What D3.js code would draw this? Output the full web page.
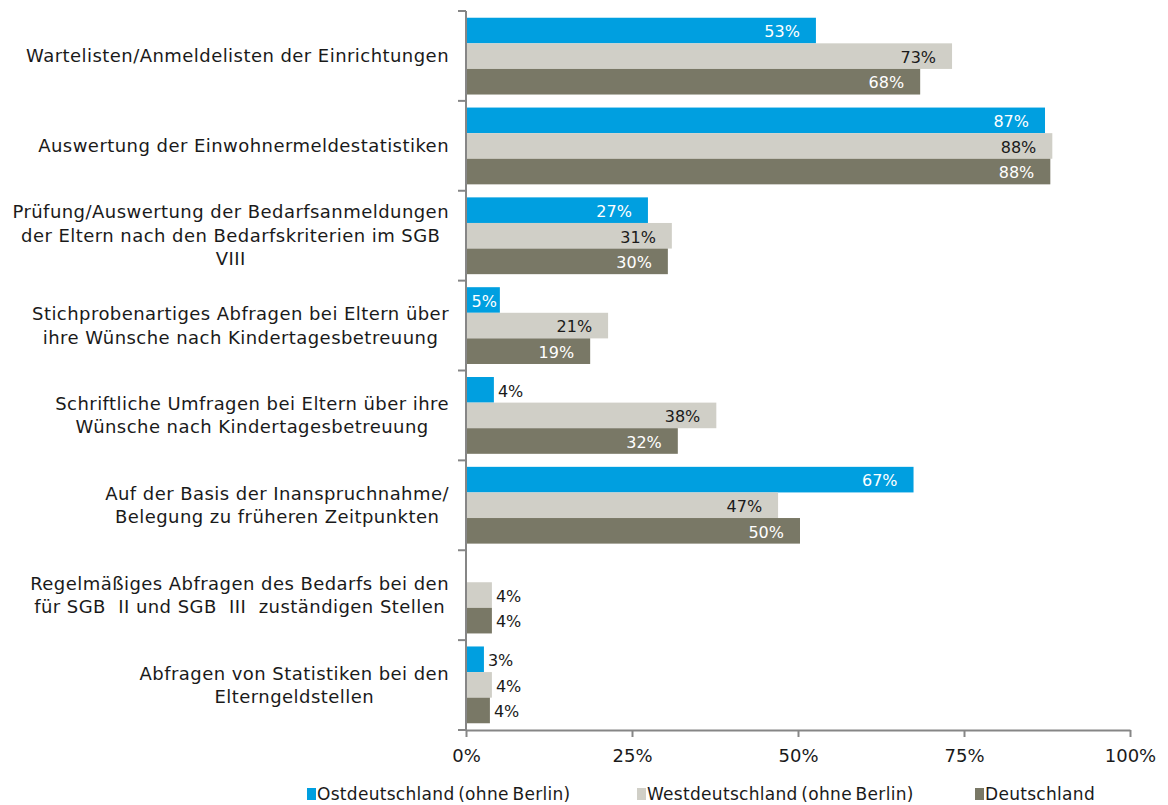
<!DOCTYPE html>
<html>
<head>
<meta charset="utf-8">
<script src="https://cdnjs.cloudflare.com/ajax/libs/d3/7.8.5/d3.min.js"></script>
<style>
    body { margin: 0; background: #fff; }
    svg { display: block; }
</style>
</head>
<body>
<div id="chart"></div>
<script>
/* Chart data. */
const categories = [
    ['Wartelisten/Anmeldelisten der Einrichtungen'],
    ['Auswertung der Einwohnermeldestatistiken'],
    ['Prüfung/Auswertung der Bedarfsanmeldungen', 'der Eltern nach den Bedarfskriterien im SGB', 'VIII'],
    ['Stichprobenartiges Abfragen bei Eltern über', 'ihre Wünsche nach Kindertagesbetreuung'],
    ['Schriftliche Umfragen bei Eltern über ihre', 'Wünsche nach Kindertagesbetreuung'],
    ['Auf der Basis der Inanspruchnahme/', 'Belegung zu früheren Zeitpunkten'],
    ['Regelmäßiges Abfragen des Bedarfs bei den', 'für SGB  II und SGB  III  zuständigen Stellen'],
    ['Abfragen von Statistiken bei den', 'Elterngeldstellen']
];
const seriesNames = ['Ostdeutschland (ohne Berlin)', 'Westdeutschland (ohne Berlin)', 'Deutschland'];
const ostValues = [52.7, 87.2, 27.4, 5.1, 4.2, 67.4, null, 2.7];
const westValues = [73.2, 88.3, 31.0, 21.4, 37.7, 47.0, 3.9, 3.9];
const deValues = [68.4, 88.0, 30.4, 18.7, 31.9, 50.3, 3.9, 3.6];
const xTicks = [0, 25, 50, 75, 100];

const colors = ['#009fe0', '#d0cfc7', '#797866'];
const labelColors = ['#ffffff', '#1a1a1a', '#ffffff'];

const W = 1168, H = 805;
const margin = {top: 11, left: 466, right: 38, bottom: 75};
const width = W - margin.left - margin.right;
const height = H - margin.top - margin.bottom;

const svg = d3.select('#chart').append('svg')
    .attr('width', W)
    .attr('height', H);

const g = svg.append('g')
    .attr('transform', 'translate(' + margin.left + ',' + margin.top + ')');

// Scales.
const x = d3.scaleLinear().domain([0, 100]).range([0, width]);
const y = d3.scaleBand().domain(d3.range(categories.length)).range([0, height])
    .paddingInner(0.145).paddingOuter(0.075);
const ySub = d3.scaleBand().domain([0, 1, 2]).range([0, y.bandwidth()]);
const yOuter = d3.scaleLinear().domain([0, categories.length]).range([0, height]);

// Build rows.
const allSeries = [ostValues, westValues, deValues];
const rows = [];
allSeries.forEach(function (vals, s) {
    vals.forEach(function (v, i) {
        if (v !== null) rows.push({cat: i, s: s, v: v});
    });
});

// Bars.
g.selectAll('rect.bar')
    .data(rows)
    .enter()
    .append('rect')
    .attr('class', 'bar')
    .attr('x', x(0) + 1)
    .attr('y', function (d) { return y(d.cat) + ySub(d.s); })
    .attr('width', function (d) { return x(d.v) - x(0) - 1; })
    .attr('height', ySub.bandwidth())
    .attr('fill', function (d) { return colors[d.s]; });

// Bar labels (inside end, outside if too small).
const labelFont = '16px "DejaVu Sans", Verdana, sans-serif';
g.selectAll('text.val')
    .data(rows)
    .enter()
    .append('text')
    .attr('class', 'val')
    .style('font', labelFont)
    .attr('dy', '0.36em')
    .attr('y', function (d) { return y(d.cat) + ySub(d.s) + ySub.bandwidth() / 2 + 1; })
    .text(function (d) { return Math.round(d.v) + '%'; })
    .each(function (d) {
        const t = d3.select(this);
        const tw = this.getComputedTextLength();
        const bw = x(d.v) - x(0);
        if (tw + 4 <= bw) {
            const pad = bw - tw >= 18 ? 16 : 3;
            t.attr('x', x(d.v) - pad).attr('text-anchor', 'end').attr('fill', labelColors[d.s]);
        } else {
            t.attr('x', x(d.v) + 4).attr('text-anchor', 'start').attr('fill', '#1a1a1a');
        }
    });

// Axes.
const axisColor = '#868686';
g.append('line')
    .attr('x1', 0).attr('x2', 0).attr('y1', 0).attr('y2', height)
    .attr('stroke', axisColor).attr('stroke-width', 2);
g.selectAll('line.ytick')
    .data(d3.range(categories.length + 1))
    .enter()
    .append('line')
    .attr('x1', -8).attr('x2', 0)
    .attr('y1', function (d) { return yOuter(d); })
    .attr('y2', function (d) { return yOuter(d); })
    .attr('stroke', axisColor).attr('stroke-width', 2);

const xAxis = g.append('g')
    .attr('transform', 'translate(0,' + height + ')')
    .call(d3.axisBottom(x).tickValues(xTicks).tickSize(7).tickSizeOuter(0)
        .tickFormat(function (d) { return d + '%'; }));
xAxis.select('.domain').attr('stroke', axisColor).attr('stroke-width', 2);
xAxis.selectAll('.tick line').attr('stroke', axisColor).attr('stroke-width', 2);
xAxis.selectAll('.tick text')
    .attr('y', 19)
    .style('font', '18px "DejaVu Sans", Verdana, sans-serif')
    .attr('fill', '#1a1a1a');

// Category labels, centred block right-aligned against the axis.
const catFont = '18px "DejaVu Sans", Verdana, sans-serif';
const lineH = 23.5;
const labelRight = -17;
categories.forEach(function (lines, i) {
    const grp = g.append('g');
    const texts = lines.map(function (line) {
        return grp.append('text')
            .style('font', catFont)
            .style('letter-spacing', '0.45px')
            .style('white-space', 'pre')
            .attr('fill', '#1a1a1a')
            .attr('text-anchor', 'middle')
            .text(line);
    });
    let maxW = 0;
    texts.forEach(function (t) { maxW = Math.max(maxW, t.node().getComputedTextLength()); });
    const cx = labelRight - maxW / 2;
    const cy = yOuter(i) + (yOuter(i + 1) - yOuter(i)) / 2;
    const top = cy - (lines.length - 1) * lineH / 2;
    texts.forEach(function (t, k) {
        t.attr('x', cx).attr('y', top + k * lineH).attr('dy', '0.35em');
    });
});

// Legend.
const legendX = [307, 637, 975];
const legend = svg.append('g').attr('transform', 'translate(0,794)');
seriesNames.forEach(function (name, s) {
    legend.append('rect')
        .attr('x', legendX[s]).attr('y', -6)
        .attr('width', 9).attr('height', 12)
        .attr('fill', colors[s]);
    legend.append('text')
        .attr('x', legendX[s] + 10)
        .attr('dy', '0.36em')
        .style('font', '17px "DejaVu Sans", Verdana, sans-serif')
        .style('letter-spacing', '0.3px')
        .style('word-spacing', '-2px')
        .attr('fill', '#1a1a1a')
        .text(name);
});
</script>
</body>
</html>
